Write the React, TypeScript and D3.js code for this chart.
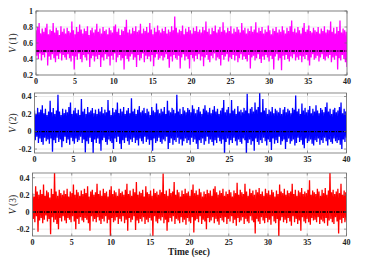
import React from "react";
import * as d3 from "d3";

const xTicks = [0, 5, 10, 15, 20, 25, 30, 35, 40];

// per-bin upper excursions (0.2 s bins)
const v1Hi = [
0.76,0.80,0.85,0.72,0.78,0.74,0.79,0.84,0.71,0.77,0.75,0.85,0.73,0.79,0.76,0.70,0.81,0.74,0.78,0.72,
0.79,0.75,0.73,0.87,0.76,0.71,0.80,0.74,0.83,0.77,0.72,0.78,0.75,0.81,0.70,0.76,0.79,0.73,0.77,0.84,
0.74,0.78,0.72,0.80,0.75,0.77,0.71,0.79,0.76,0.73,0.81,0.83,0.74,0.78,0.70,0.77,0.75,0.80,0.89,0.73,
0.77,0.72,0.79,0.75,0.81,0.74,0.76,0.84,0.72,0.78,0.75,0.80,0.73,0.85,0.77,0.71,0.79,0.74,0.82,0.76,
0.73,0.78,0.75,0.80,0.72,0.77,0.74,0.81,0.76,0.93,0.79,0.73,0.77,0.75,0.82,0.71,0.78,0.74,0.80,0.76,
0.72,0.79,0.75,0.81,0.74,0.77,0.73,0.80,0.76,0.87,0.74,0.78,0.71,0.79,0.75,0.82,0.73,0.77,0.80,0.74,
0.86,0.76,0.73,0.79,0.75,0.81,0.72,0.78,0.74,0.80,0.77,0.73,0.85,0.76,0.79,0.72,0.78,0.75,0.81,0.74,
0.77,0.86,0.73,0.79,0.75,0.80,0.72,0.77,0.74,0.82,0.76,0.71,0.78,0.75,0.80,0.73,0.77,0.74,0.81,0.76,
0.72,0.79,0.75,0.81,0.88,0.74,0.78,0.73,0.80,0.76,0.72,0.79,0.85,0.74,0.77,0.82,0.75,0.73,0.79,0.76,
0.74,0.80,0.72,0.78,0.75,0.81,0.73,0.77,0.76,0.87,0.74,0.79,0.72,0.80,0.75,0.88,0.73,0.78,0.76,0.74];
const v1Lo = [
0.44,0.40,0.47,0.38,0.45,0.42,0.48,0.32,0.43,0.39,0.46,0.41,0.36,0.44,0.40,0.47,0.38,0.45,0.42,0.39,
0.46,0.41,0.37,0.44,0.27,0.43,0.39,0.47,0.40,0.36,0.45,0.42,0.38,0.46,0.30,0.41,0.44,0.37,0.43,0.40,
0.45,0.30,0.42,0.38,0.46,0.40,0.43,0.32,0.44,0.39,0.47,0.36,0.42,0.45,0.38,0.41,0.27,0.44,0.40,0.37,
0.43,0.46,0.39,0.42,0.30,0.45,0.38,0.41,0.47,0.36,0.44,0.40,0.43,0.37,0.45,0.31,0.42,0.46,0.39,0.41,
0.44,0.38,0.42,0.46,0.40,0.29,0.43,0.37,0.45,0.41,0.39,0.44,0.28,0.42,0.46,0.38,0.43,0.40,0.28,0.45,
0.41,0.37,0.44,0.40,0.46,0.38,0.43,0.31,0.42,0.45,0.39,0.36,0.44,0.41,0.47,0.38,0.42,0.40,0.32,0.45,
0.39,0.43,0.46,0.37,0.42,0.40,0.45,0.38,0.44,0.36,0.41,0.46,0.39,0.43,0.40,0.37,0.45,0.28,0.42,0.44,
0.38,0.41,0.46,0.40,0.35,0.43,0.39,0.45,0.42,0.37,0.44,0.40,0.27,0.43,0.46,0.38,0.41,0.26,0.44,0.39,
0.45,0.40,0.37,0.43,0.41,0.46,0.38,0.42,0.39,0.44,0.36,0.43,0.40,0.45,0.38,0.32,0.42,0.46,0.39,0.41,
0.44,0.37,0.42,0.46,0.40,0.38,0.43,0.41,0.45,0.36,0.42,0.39,0.44,0.27,0.41,0.38,0.45,0.40,0.36,0.30];

const v2Hi = [
0.24,0.20,0.27,0.22,0.25,0.30,0.21,0.26,0.19,0.23,0.35,0.22,0.27,0.20,0.24,0.42,0.23,0.19,0.26,0.21,
0.25,0.22,0.28,0.33,0.20,0.24,0.27,0.21,0.25,0.19,0.37,0.23,0.26,0.20,0.28,0.22,0.24,0.27,0.21,0.25,
0.20,0.26,0.23,0.28,0.21,0.25,0.22,0.36,0.24,0.19,0.27,0.22,0.25,0.33,0.21,0.26,0.23,0.28,0.20,0.24,
0.27,0.21,0.38,0.23,0.26,0.20,0.25,0.29,0.22,0.24,0.27,0.21,0.26,0.23,0.19,0.28,0.24,0.22,0.32,0.25,
0.21,0.26,0.23,0.28,0.20,0.35,0.24,0.22,0.27,0.25,0.21,0.42,0.23,0.26,0.20,0.28,0.24,0.22,0.27,0.25,
0.22,0.30,0.26,0.21,0.25,0.28,0.23,0.20,0.26,0.30,0.24,0.22,0.27,0.21,0.25,0.29,0.23,0.26,0.20,0.24,
0.27,0.36,0.22,0.25,0.28,0.21,0.36,0.24,0.26,0.20,0.29,0.23,0.25,0.22,0.27,0.24,0.43,0.21,0.26,0.28,
0.23,0.33,0.25,0.28,0.45,0.22,0.37,0.24,0.27,0.20,0.25,0.23,0.28,0.21,0.26,0.24,0.22,0.27,0.20,0.25,
0.28,0.22,0.26,0.24,0.21,0.27,0.25,0.41,0.23,0.26,0.20,0.32,0.24,0.27,0.22,0.25,0.29,0.21,0.26,0.23,
0.30,0.24,0.21,0.27,0.25,0.22,0.28,0.33,0.23,0.26,0.20,0.25,0.27,0.22,0.24,0.28,0.33,0.21,0.26,0.23];
const v2Lo = [
-0.10,-0.06,-0.13,-0.08,-0.12,-0.15,-0.07,-0.11,-0.09,-0.14,-0.08,-0.23,-0.10,-0.13,-0.07,-0.12,-0.09,-0.18,-0.11,-0.06,
-0.13,-0.09,-0.15,-0.07,-0.11,-0.14,-0.08,-0.12,-0.10,-0.06,-0.13,-0.09,-0.24,-0.11,-0.14,-0.07,-0.12,-0.25,-0.09,-0.13,
-0.08,-0.14,-0.22,-0.10,-0.07,-0.12,-0.15,-0.09,-0.11,-0.13,-0.20,-0.08,-0.12,-0.06,-0.14,-0.20,-0.10,-0.13,-0.07,-0.11,
-0.15,-0.09,-0.12,-0.07,-0.13,-0.10,-0.16,-0.08,-0.11,-0.14,-0.06,-0.12,-0.09,-0.15,-0.10,-0.22,-0.08,-0.13,-0.11,-0.07,
-0.12,-0.14,-0.09,-0.11,-0.06,-0.20,-0.13,-0.08,-0.15,-0.10,-0.12,-0.07,-0.14,-0.09,-0.16,-0.11,-0.08,-0.13,-0.10,-0.15,
-0.07,-0.12,-0.09,-0.14,-0.20,-0.10,-0.13,-0.08,-0.15,-0.11,-0.06,-0.14,-0.09,-0.12,-0.16,-0.10,-0.13,-0.07,-0.11,-0.14,
-0.09,-0.28,-0.12,-0.08,-0.15,-0.10,-0.13,-0.07,-0.11,-0.16,-0.09,-0.12,-0.14,-0.08,-0.10,-0.27,-0.13,-0.09,-0.15,-0.11,
-0.22,-0.08,-0.12,-0.15,-0.10,-0.13,-0.07,-0.11,-0.16,-0.09,-0.12,-0.21,-0.08,-0.14,-0.10,-0.13,-0.06,-0.15,-0.11,-0.09,
-0.20,-0.12,-0.08,-0.14,-0.11,-0.09,-0.16,-0.13,-0.07,-0.12,-0.10,-0.15,-0.19,-0.08,-0.13,-0.11,-0.09,-0.14,-0.16,-0.10,
-0.12,-0.08,-0.15,-0.10,-0.13,-0.07,-0.11,-0.16,-0.09,-0.12,-0.14,-0.08,-0.11,-0.13,-0.10,-0.15,-0.20,-0.09,-0.12,-0.07];

const v3Hi = [
0.22,0.18,0.30,0.24,0.20,0.26,0.21,0.32,0.19,0.25,0.23,0.17,0.27,0.21,0.46,0.24,0.19,0.26,0.22,0.20,
0.25,0.21,0.27,0.18,0.24,0.22,0.32,0.20,0.26,0.23,0.19,0.25,0.21,0.27,0.22,0.30,0.18,0.24,0.26,0.20,
0.23,0.33,0.21,0.25,0.19,0.27,0.22,0.24,0.18,0.26,0.30,0.21,0.25,0.23,0.19,0.27,0.22,0.24,0.20,0.26,
0.33,0.21,0.25,0.19,0.27,0.23,0.35,0.20,0.24,0.22,0.26,0.18,0.30,0.23,0.21,0.25,0.19,0.27,0.22,0.24,
0.20,0.26,0.23,0.45,0.21,0.25,0.19,0.27,0.22,0.24,0.35,0.20,0.26,0.23,0.18,0.25,0.21,0.27,0.22,0.24,
0.19,0.26,0.32,0.22,0.25,0.20,0.27,0.23,0.18,0.24,0.21,0.26,0.22,0.25,0.19,0.27,0.30,0.23,0.20,0.25,
0.22,0.27,0.19,0.24,0.21,0.26,0.23,0.18,0.25,0.22,0.34,0.20,0.26,0.23,0.21,0.33,0.24,0.19,0.27,0.22,
0.25,0.20,0.26,0.23,0.28,0.21,0.24,0.19,0.27,0.22,0.25,0.20,0.26,0.23,0.18,0.25,0.21,0.32,0.24,0.22,
0.27,0.20,0.25,0.22,0.24,0.33,0.21,0.26,0.19,0.25,0.23,0.28,0.21,0.24,0.22,0.26,0.37,0.20,0.25,0.23,
0.21,0.27,0.24,0.19,0.26,0.22,0.28,0.20,0.25,0.46,0.23,0.26,0.21,0.24,0.27,0.22,0.33,0.20,0.25,0.23];
const v3Lo = [
-0.08,-0.12,-0.05,-0.23,-0.10,-0.07,-0.13,-0.09,-0.04,-0.11,-0.08,-0.26,-0.06,-0.12,-0.09,-0.14,-0.20,-0.07,-0.11,-0.05,
-0.10,-0.13,-0.07,-0.09,-0.12,-0.05,-0.11,-0.20,-0.08,-0.14,-0.06,-0.10,-0.12,-0.07,-0.09,-0.13,-0.22,-0.05,-0.11,-0.08,
-0.12,-0.06,-0.10,-0.14,-0.08,-0.11,-0.05,-0.13,-0.09,-0.28,-0.07,-0.12,-0.10,-0.06,-0.14,-0.08,-0.11,-0.05,-0.13,-0.09,
-0.22,-0.07,-0.12,-0.09,-0.05,-0.21,-0.10,-0.13,-0.08,-0.11,-0.06,-0.14,-0.09,-0.12,-0.07,-0.10,-0.28,-0.05,-0.11,-0.13,
-0.08,-0.10,-0.06,-0.13,-0.09,-0.22,-0.12,-0.07,-0.11,-0.05,-0.14,-0.08,-0.10,-0.13,-0.06,-0.12,-0.09,-0.15,-0.07,-0.11,
-0.13,-0.06,-0.24,-0.10,-0.08,-0.12,-0.05,-0.14,-0.09,-0.11,-0.20,-0.07,-0.12,-0.10,-0.06,-0.13,-0.08,-0.11,-0.15,-0.07,
-0.10,-0.12,-0.06,-0.14,-0.08,-0.11,-0.05,-0.13,-0.09,-0.16,-0.07,-0.12,-0.10,-0.06,-0.14,-0.08,-0.11,-0.13,-0.05,-0.10,
-0.12,-0.25,-0.08,-0.11,-0.14,-0.06,-0.10,-0.13,-0.07,-0.12,-0.09,-0.15,-0.05,-0.11,-0.13,-0.08,-0.29,-0.10,-0.06,-0.12,
-0.09,-0.13,-0.07,-0.11,-0.16,-0.05,-0.12,-0.08,-0.14,-0.10,-0.22,-0.06,-0.11,-0.13,-0.08,-0.12,-0.15,-0.07,-0.10,-0.09,
-0.12,-0.06,-0.14,-0.09,-0.11,-0.13,-0.07,-0.16,-0.10,-0.08,-0.12,-0.14,-0.06,-0.11,-0.25,-0.09,-0.13,-0.07,-0.12,-0.10];

const refLevels = [0.5, 0, 0];
const yTicks1 = [0.2, 0.4, 0.6, 0.8, 1];
const yTicks2 = [-0.2, 0, 0.2, 0.4];
const yTicks3 = [-0.2, 0, 0.2, 0.4];

const panels = [
  { hi: v1Hi, lo: v1Lo, color: "#ff00ff", domain: [0.2, 1], ticks: yTicks1, label: "1", left: 36, right: 347, top: 11, bottom: 75 },
  { hi: v2Hi, lo: v2Lo, color: "#0000ff", domain: [-0.245, 0.44], ticks: yTicks2, label: "2", left: 34.5, right: 346.5, top: 93, bottom: 153 },
  { hi: v3Hi, lo: v3Lo, color: "#ff0000", domain: [-0.28, 0.455], ticks: yTicks3, label: "3", left: 32.5, right: 346.5, top: 173, bottom: 236 },
];

const fmt = (v: number) => (v === 0 ? "0" : v === 1 ? "1" : String(v));

function Panel({ p, idx }: { p: any; idx: number }) {
  const x = d3.scaleLinear().domain([0, 40]).range([p.left, p.right]);
  const y = d3.scaleLinear().domain(p.domain).range([p.bottom, p.top]);
  const vals: number[] = [];
  for (let i = 0; i < p.hi.length; i++) { vals.push(p.hi[i]); vals.push(p.lo[i]); }
  const n = vals.length;
  const line = d3.line<number>().x((_, i) => x((i * 40) / (n - 1))).y((v) => y(v));
  const clipId = `clip${idx}`;
  const axisColor = "#6e6e6e";
  const tl = 2.5;
  return (
    <g>
      <defs>
        <clipPath id={clipId}>
          <rect x={p.left} y={p.top} width={p.right - p.left} height={p.bottom - p.top} />
        </clipPath>
      </defs>
      <rect x={p.left} y={p.top} width={p.right - p.left} height={p.bottom - p.top} fill="#fff" />
      {xTicks.map((t) => (
        <line key={"gx" + t} x1={x(t)} x2={x(t)} y1={p.top} y2={p.bottom} stroke="#e3e3e3" strokeWidth={0.7} />
      ))}
      {p.ticks.map((t: number) => (
        <line key={"gy" + t} x1={p.left} x2={p.right} y1={y(t)} y2={y(t)} stroke="#e3e3e3" strokeWidth={0.7} />
      ))}
      <g clipPath={`url(#${clipId})`}>
        <path d={line(vals) || ""} fill="none" stroke={p.color} strokeWidth={1.3} strokeLinejoin="miter" />
        <line x1={p.left} x2={p.right} y1={y(refLevels[idx])} y2={y(refLevels[idx])} stroke="#000" strokeWidth={1.3} strokeDasharray="3.5,1.2,1,1.2" />
      </g>
      <rect x={p.left} y={p.top} width={p.right - p.left} height={p.bottom - p.top} fill="none" stroke={axisColor} strokeWidth={0.8} />
      {xTicks.map((t) => (
        <g key={"tx" + t}>
          <line x1={x(t)} x2={x(t)} y1={p.bottom} y2={p.bottom - tl} stroke={axisColor} strokeWidth={0.7} />
          <line x1={x(t)} x2={x(t)} y1={p.top} y2={p.top + tl} stroke={axisColor} strokeWidth={0.7} />
          <text x={x(t)} y={p.bottom + 8.5} textAnchor="middle" fontFamily="'Liberation Serif', serif" fontWeight="bold" fontSize={8} fill="#222">{t}</text>
        </g>
      ))}
      {p.ticks.map((t: number) => (
        <g key={"ty" + t}>
          <line x1={p.left} x2={p.left + tl} y1={y(t)} y2={y(t)} stroke={axisColor} strokeWidth={0.7} />
          <line x1={p.right} x2={p.right - tl} y1={y(t)} y2={y(t)} stroke={axisColor} strokeWidth={0.7} />
          <text x={p.left - 3} y={y(t) + 2.8} textAnchor="end" fontFamily="'Liberation Serif', serif" fontWeight="bold" fontSize={8} fill="#222">{fmt(t)}</text>
        </g>
      ))}
      <text transform={`translate(${16},${(p.top + p.bottom) / 2}) rotate(-90)`} textAnchor="middle" fontFamily="'Liberation Serif', serif" fontSize={9.5} fill="#222">
        <tspan fontStyle="italic">V</tspan> ({p.label})
      </text>
    </g>
  );
}

export default function App() {
  return (
    <svg width={367} height={259} style={{ position: "absolute", left: 0, top: 0, background: "#fff" }}>
      <rect x={0} y={0} width={367} height={259} fill="#fff" />
      {panels.map((p, i) => (
        <Panel key={i} p={p} idx={i} />
      ))}
      <text x={189} y={255} textAnchor="middle" fontFamily="'Liberation Serif', serif" fontWeight="bold" fontSize={9.5} fill="#222">Time (sec)</text>
    </svg>
  );
}
